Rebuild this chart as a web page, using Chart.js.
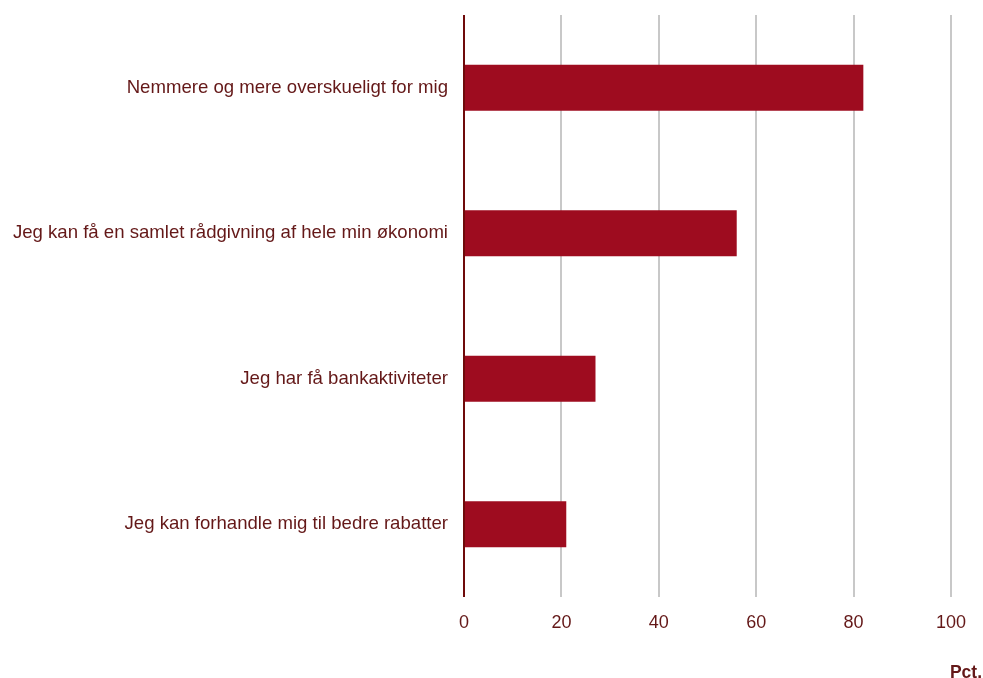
<!DOCTYPE html>
<html>
<head>
<meta charset="utf-8">
<script src="https://cdn.jsdelivr.net/npm/chart.js@4/dist/chart.umd.min.js"></script>
<style>
  html, body { margin: 0; padding: 0; background: #fff; }
  #wrap { width: 983px; height: 678px; }
</style>
</head>
<body>
<div id="wrap"><canvas id="js--chart-1"></canvas></div>
<script>
const labels = [
    "Nemmere og mere overskueligt for mig",
    "Jeg kan få en samlet rådgivning af hele min økonomi",
    "Jeg har få bankaktiviteter",
    "Jeg kan forhandle mig til bedre rabatter",
];
const values = [82, 56, 27, 21];
const xTicks = [0, 20, 40, 60, 80, 100];

const textColor = '#641818';
const barColor = '#9e0c1f';
const family = '"Liberation Sans", Arial, sans-serif';

// "Pct." unit label in the bottom right corner
const unitLabel = {
    id: 'unitLabel',
    afterDraw(chart) {
        const c = chart.ctx;
        c.save();
        c.font = 'bold 17.5px ' + family;
        c.fillStyle = textColor;
        c.textAlign = 'right';
        c.textBaseline = 'middle';
        c.fillText('Pct.', chart.width - 1, 673);
        c.restore();
    }
};

const data1 = {
    labels: labels,
    datasets: [{
        data: values,
        backgroundColor: barColor,
        borderWidth: 0,
        categoryPercentage: 1,
        barPercentage: 0.316
    }]
};

const config = {
    type: 'bar',
    data: data1,
    options: {
        indexAxis: 'y',
        responsive: true,
        maintainAspectRatio: false,
        animation: false,
        layout: { padding: { top: 15, right: 32, left: 0, bottom: 0 } },
        plugins: {
            legend: { display: false },
            tooltip: { enabled: false }
        },
        scales: {
            x: {
                min: 0,
                max: 100,
                afterBuildTicks(scale) {
                    scale.ticks = xTicks.map(v => ({ value: v }));
                },
                afterFit(scale) { scale.height = 81; },
                grid: {
                    color: ctx => ctx.tick && ctx.tick.value === 0 ? '#6f0a0a' : '#c8c8c8',
                    lineWidth: 2,
                    drawTicks: false
                },
                border: { display: false },
                ticks: { color: textColor, font: { family: family, size: 18 }, padding: 15 }
            },
            y: {
                afterFit(scale) {
                    scale.width = 464;
                    // don't let the label half-heights push the plot area down
                    scale.paddingTop = 0;
                    scale.paddingBottom = 0;
                },
                grid: { display: false, drawTicks: false },
                border: { display: false },
                ticks: { color: textColor, font: { family: family, size: 18.6 }, padding: 16 }
            }
        }
    },
    plugins: [unitLabel]
};

const chart1 = new Chart(document.getElementById("js--chart-1"), config);
</script>
</body>
</html>
